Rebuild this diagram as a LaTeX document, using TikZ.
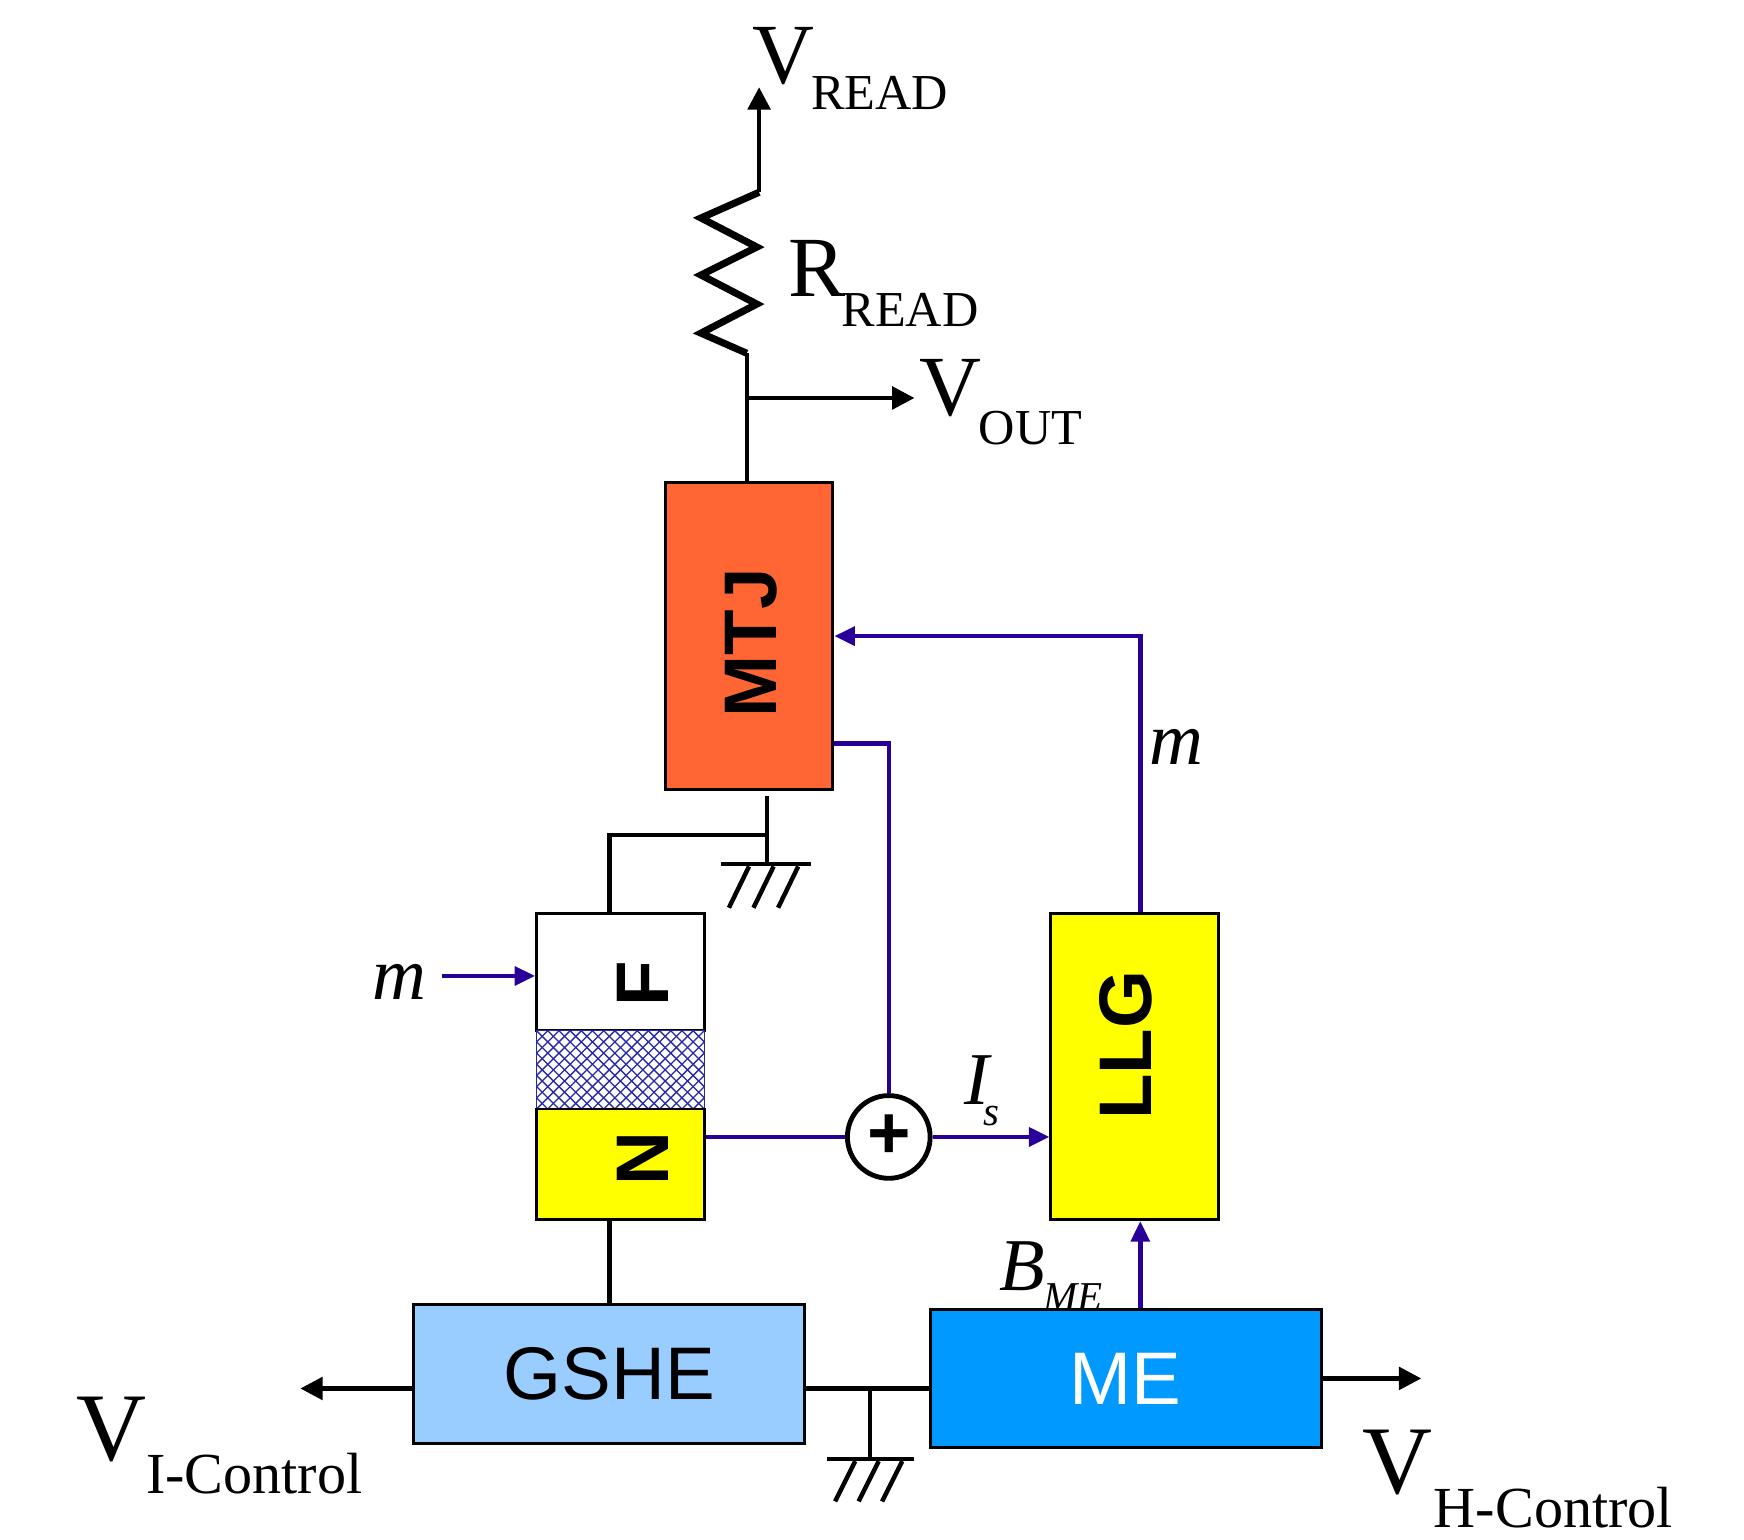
\documentclass[tikz,border=0pt]{standalone}
\usepackage{fontspec}
\setmainfont{Liberation Serif}
\setsansfont{Liberation Sans}
\usetikzlibrary{arrows.meta}
\definecolor{mtjor}{RGB}{255,102,51}
\definecolor{ylw}{RGB}{255,255,0}
\definecolor{gshecol}{RGB}{153,204,255}
\definecolor{mecol}{RGB}{0,153,255}
\definecolor{sig}{RGB}{40,0,153}
\definecolor{hatchcol}{RGB}{40,40,170}
\begin{document}
\begin{tikzpicture}[x=0.3pt,y=-0.3pt,
  blk/.style={draw=black, line width=0.8pt, inner sep=0pt},
  wire/.style={line width=1.2pt, draw=black},
  sigwire/.style={line width=1.2pt, draw=sig},
  bigarrow/.style={-{Triangle[length=6pt,width=6pt]}},
  sigarrow/.style={-{Triangle[length=5.5pt,width=5pt]}},
  boxtxt/.style={font=\sffamily\bfseries\fontsize{20}{20}\selectfont, rotate=90, inner sep=0pt},
  lblbig/.style={font=\fontsize{23}{23}\selectfont, inner sep=0pt, anchor=base west},
  lblsub/.style={font=\fontsize{13.5}{13.5}\selectfont, inner sep=0pt, anchor=base west},
  lblbigb/.style={font=\fontsize{26}{26}\selectfont, inner sep=0pt, anchor=base west},
  lblsubb/.style={font=\fontsize{15.6}{15.6}\selectfont, inner sep=0pt, anchor=base west},
  ital/.style={font=\itshape\fontsize{20}{20}\selectfont, inner sep=0pt},
  italsub/.style={font=\itshape\fontsize{11}{11}\selectfont, inner sep=0pt},
  gnd/.style={line width=1.2pt, draw=black}
]
\useasboundingbox (0,0) rectangle (1560,1377);

% ---------- boxes ----------
\node[blk, fill=mtjor, minimum width=45pt, minimum height=82.2pt] (mtj) at (670,569) {};
\node[boxtxt] (mtjt) at (672,575) {MTJ};

\node[blk, fill=white, minimum width=45pt, minimum height=31.5pt] (fbox) at (555,869.5) {};
\node[boxtxt] (ft) at (575,880) {F};
\node[draw=hatchcol, line width=0.4pt, fill=white, minimum width=45pt, minimum height=21pt, inner sep=0pt] (tun) at (555,957) {};
\begin{scope}
  \clip (480,922) rectangle (630,992);
  \foreach \i in {0,...,23} {
    \draw[hatchcol, line width=0.35pt] (400+\i*10,922) -- (470+\i*10,992);
    \draw[hatchcol, line width=0.35pt] (480+\i*10,922) -- (410+\i*10,992);
  }
\end{scope}
\node[blk, fill=ylw, minimum width=45pt, minimum height=29.7pt] (nbox) at (555,1041.5) {};
\node[boxtxt] (nt) at (575,1036) {N};

\node[blk, fill=ylw, minimum width=45pt, minimum height=82.2pt] (llg) at (1015,954) {};
\node[boxtxt] (llgt) at (1007,935) {LLG};

\node[blk, fill=gshecol, minimum width=105pt, minimum height=37.2pt,
      font=\sffamily\fontsize{20}{20}\selectfont] (gshe) at (545,1229) {GSHE};
\node[blk, fill=mecol, minimum width=105pt, minimum height=37.2pt, text=white,
      font=\sffamily\fontsize{20}{20}\selectfont] (me) at (1007,1233) {ME};

\node[draw=black, circle, line width=1.3pt, minimum size=22.2pt, inner sep=0pt, fill=white,
      font=\sffamily\bfseries\fontsize{20}{20}\selectfont] (sum) at (795,1017) {+};

% ---------- read path ----------
\coordinate (rtop) at (679,172);
\coordinate (vtip) at (679,78);
\coordinate (rbot) at (668,316);
\draw[wire, bigarrow] (rtop) -- (vtip);
\draw[line width=1.9pt, line join=miter] (rtop) -- (627,195) -- (677,221) -- (627,246) -- (677,272) -- (627,298) -- (rbot);
\draw[wire] (rbot) -- (rbot |- mtj.north);
\coordinate (vo) at (668,356);
\coordinate (votip) at (818,356);
\draw[wire, bigarrow] (vo) -- (votip);

% ---------- MTJ bottom & ground ----------
\coordinate (g1top) at (686,712);
\coordinate (g1) at (686,773);
\coordinate (j1) at (686,747);
\draw[wire] (g1top) -- (g1);
\draw[wire] (j1) -| ([xshift=-3pt]fbox.north);
\draw[gnd] (645,773) -- (725,773);
\draw[gnd] (670,775) -- (652,812);
\draw[gnd] (692,775) -- (674,812);
\draw[gnd] (714,775) -- (696,812);

% ---------- N to GSHE ----------
\draw[wire] (nbox.south -| gshe.north) -- (gshe.north);

% ---------- bottom row ----------
\coordinate (gm) at ([yshift=-3.9pt]gshe.east);
\coordinate (gw) at ([yshift=-3.9pt]gshe.west);
\coordinate (g2) at (778,1242);
\draw[wire] (gm) -- (gm -| me.west);
\draw[gnd] (g2) -- (778,1305);
\draw[gnd] (740,1305) -- (818,1305);
\draw[gnd] (765,1307) -- (747,1343);
\draw[gnd] (786,1307) -- (768,1343);
\draw[gnd] (807,1307) -- (789,1343);
\draw[wire, bigarrow] (gw) -- ++(-100,0);
\draw[wire, bigarrow] (me.east) -- ++(88,0);

% ---------- signal connectors ----------
\coordinate (ms) at (395,873);
\draw[sigwire, sigarrow] (ms) -- (ms -| fbox.west);
\draw[sigwire] (nbox.east |- sum.west) -- (sum.west);
\draw[sigwire, sigarrow] (sum.east) -- (sum.east -| llg.west);
\coordinate (mo) at ([yshift=-28.8pt]mtj.east);
\draw[sigwire] (mo) -| (sum.north);
\draw[sigwire, sigarrow] ([xshift=1.5pt]llg.north) |- (mtj.east);
\coordinate (bm) at ([xshift=3.9pt]me.north);
\draw[sigwire, sigarrow] (bm) -- (bm |- llg.south);

% ---------- labels ----------
\node[lblbig] (vreadv) at (672,75) {V};
\node[lblsub] (vreads) at (725,98) {READ};
\node[lblbig] (rreadr) at (705,265) {R};
\node[lblsub] (rreads) at (752,292) {READ};
\node[lblbig] (voutv) at (822,372) {V};
\node[lblsub] (vouts) at (875,398) {OUT};
\node[lblbigb] (viv) at (68,1306) {V};
\node[lblsubb] (vis) at (130,1336) {I-Control};
\node[lblbigb] (vhv) at (1218,1336) {V};
\node[lblsubb] (vhs) at (1282,1366) {H-Control};

\node[ital] (m1) at (357,878) {m};
\node[ital] (m2) at (1052,668) {m};
\node[ital] (isI) at (874,966) {I};
\node[italsub] (isS) at (887,998) {s};
\node[ital] (bB) at (914,1133) {B};
\node[italsub] (bME) at (960,1160) {ME};
\end{tikzpicture}
\end{document}
